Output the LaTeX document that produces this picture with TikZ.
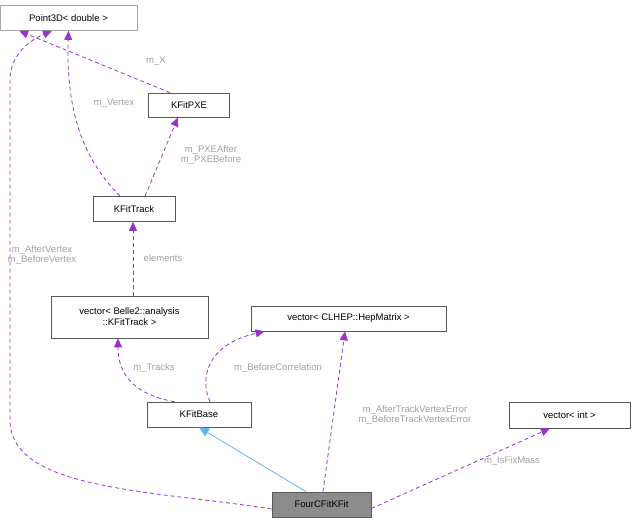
\documentclass[tikz,border=0pt]{standalone}
\usepackage{fontspec}
\setmainfont{Liberation Sans}
\usetikzlibrary{arrows.meta}
\definecolor{ep}{RGB}{153,50,204}
\definecolor{eb}{RGB}{99,182,240}
\definecolor{lbl}{RGB}{160,160,160}
\begin{document}
\begin{tikzpicture}[x=1pt,y=-1pt,
  box/.style={draw=black!65,fill=white,inner sep=0pt,font=\fontsize{9.5}{11}\selectfont,align=center,line width=0.7pt},
  dep/.style={draw=ep,line width=0.8pt,dash pattern=on 4pt off 3pt,-{Triangle[length=9pt,width=8pt,fill=ep]}},
  inh/.style={draw=eb,line width=0.8pt,-{Triangle[length=10pt,width=9pt,fill=eb]}},
  lab/.style={text=lbl,font=\fontsize{9.5}{10.5}\selectfont,align=center,inner sep=1pt}]
\useasboundingbox (0,0) rectangle (637,524);
\node[box,draw=black!35,minimum width=137pt,minimum height=25pt] (p3d) at (68.5,18) {Point3D< double >};
\node[box,minimum width=81pt,minimum height=24pt] (pxe) at (189,105) {KFitPXE};
\node[box,minimum width=82pt,minimum height=25pt] (trk) at (134,209) {KFitTrack};
\node[box,minimum width=157pt,minimum height=42pt] (vtrk) at (129.5,317) {vector< Belle2::analysis\\::KFitTrack >};
\node[box,minimum width=195pt,minimum height=25pt] (hep) at (348.5,318.5) {vector< CLHEP::HepMatrix >};
\node[box,minimum width=104pt,minimum height=25pt] (base) at (199,414.5) {KFitBase};
\node[box,minimum width=121pt,minimum height=26pt] (vint) at (569.5,415) {vector< int >};
\node[box,fill=black!45,minimum width=99pt,minimum height=25pt] (four) at (321.5,504.5) {FourCFitKFit};
\draw[dep] ([xshift=-19pt]pxe.north) -- ([xshift=19.5pt]p3d.south west);
\node[lab] at (156,61) {m\_X};
\draw[dep] ([xshift=-14pt]trk.north) .. controls (95,170) and (65,130) .. (p3d.south);
\node[lab] at (114,103) {m\_Vertex};
\draw[dep] ([xshift=11pt]trk.north) -- ([xshift=-11pt]pxe.south);
\node[lab] at (211,155) {m\_PXEAfter\\m\_PXEBefore};
\draw[dep] ([xshift=3.5pt]vtrk.north) -- ([xshift=-1pt]trk.south);
\node[lab] at (163,258) {elements};
\draw[dep] ([xshift=28pt]base.north west) .. controls (135,395) and (118,375) .. ([xshift=-11.5pt]vtrk.south);
\node[lab] at (154,368) {m\_Tracks};
\draw[dep] ([xshift=11pt]base.north) .. controls (200,380) and (205,345) .. ([xshift=14pt]hep.south west);
\node[lab] at (278,368) {m\_BeforeCorrelation};
\draw[dep] ([xshift=1.5pt]four.north) -- ([xshift=-3.5pt]hep.south);
\node[lab] at (415,415) {m\_AfterTrackVertexError\\m\_BeforeTrackVertexError};
\draw[dep] ([yshift=-4pt]four.east) -- ([xshift=-19.5pt]vint.south);
\node[lab] at (512,461) {m\_IsFixMass};
\draw[dep] ([yshift=-4.5pt]four.west) .. controls (150,490) and (10,490) .. (10,420) -- (10,80) .. controls (10,55) and (30,40) .. ([xshift=-16.5pt]p3d.south);
\node[lab] at (42,255) {m\_AfterVertex\\m\_BeforeVertex};
\draw[inh] ([xshift=-15.5pt]four.north) -- (base.south);
\end{tikzpicture}
\end{document}
